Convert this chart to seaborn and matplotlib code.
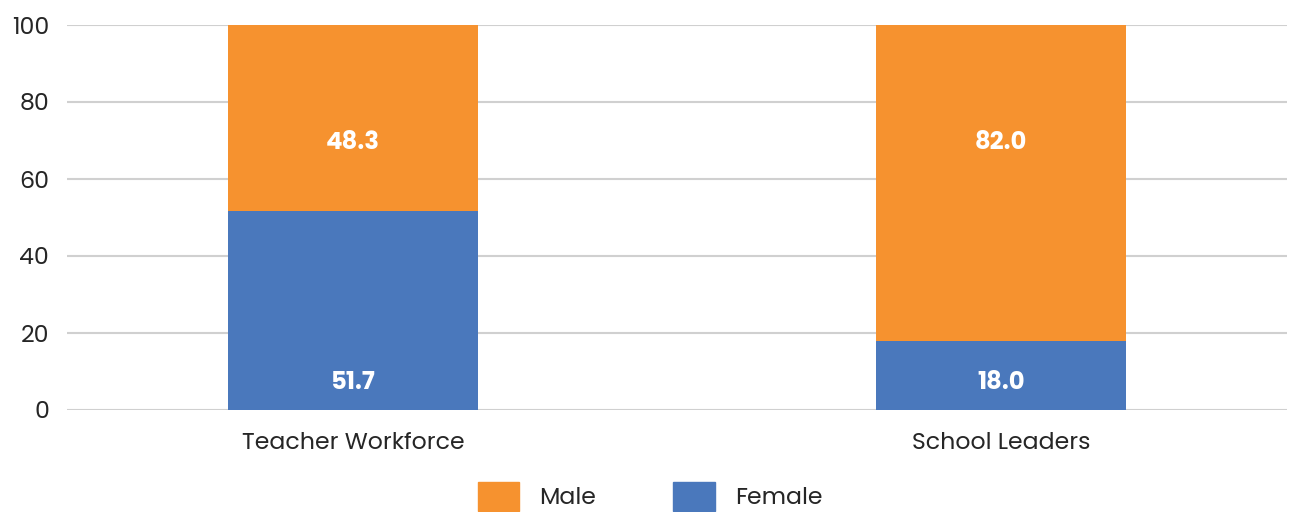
import matplotlib
matplotlib.use('Agg')
import matplotlib.pyplot as plt
import seaborn as sns
import pandas as pd
from matplotlib.patches import Patch

# data
groups = ['Teacher Workforce', 'School Leaders']
female = [51.7, 18.0]
male = [48.3, 82.0]

orange = '#F6922F'
blue = '#4A78BC'

sns.set_theme(style='white')
plt.rcParams['font.family'] = ['Poppins', 'Lato', 'DejaVu Sans']

df = pd.DataFrame({'group': groups, 'Female': female, 'Male': male})
df['total'] = df['Female'] + df['Male']

fig = plt.figure(figsize=(13.01, 5.12), dpi=100)
ax = fig.add_axes([67/1301, 1 - 410/512, 1220/1301, 385/512])

# stacked: draw full height in orange, then female part on top in blue
sns.barplot(data=df, x='group', y='total', color=orange, width=0.386,
            saturation=1, linewidth=0, ax=ax, zorder=3)
sns.barplot(data=df, x='group', y='Female', color=blue, width=0.386,
            saturation=1, linewidth=0, ax=ax, zorder=4)

for i in range(len(groups)):
    ax.text(i, 6.9, f'{female[i]:.1f}', ha='center', va='center',
            color='white', fontsize=17.5, fontweight='bold', zorder=5)
    ax.text(i, 69.3, f'{male[i]:.1f}', ha='center', va='center',
            color='white', fontsize=17.5, fontweight='bold', zorder=5)

ax.set_xlim(-0.441, 1.441)
ax.set_ylim(0, 100)
ax.set_yticks([0, 20, 40, 60, 80, 100])
ax.yaxis.grid(True, color='#D0D0D0', linewidth=1.5, zorder=0)
ax.set_axisbelow(True)
for s in ax.spines.values():
    s.set_visible(False)
ax.set_xlabel('')
ax.set_ylabel('')
ax.tick_params(axis='both', length=0, labelsize=17, colors='#262626')
ax.tick_params(axis='x', pad=16)
ax.tick_params(axis='y', pad=13)

handles = [Patch(color=orange, label='Male'), Patch(color=blue, label='Female')]
fig.legend(handles=handles, loc='center', bbox_to_anchor=(0.4995, 0.031),
           ncol=2, frameon=False, fontsize=17, handlelength=1.74,
           handleheight=1.5, handletextpad=0.85, columnspacing=3.3,
           labelcolor='#262626')

fig.savefig('out.png', dpi=100)
